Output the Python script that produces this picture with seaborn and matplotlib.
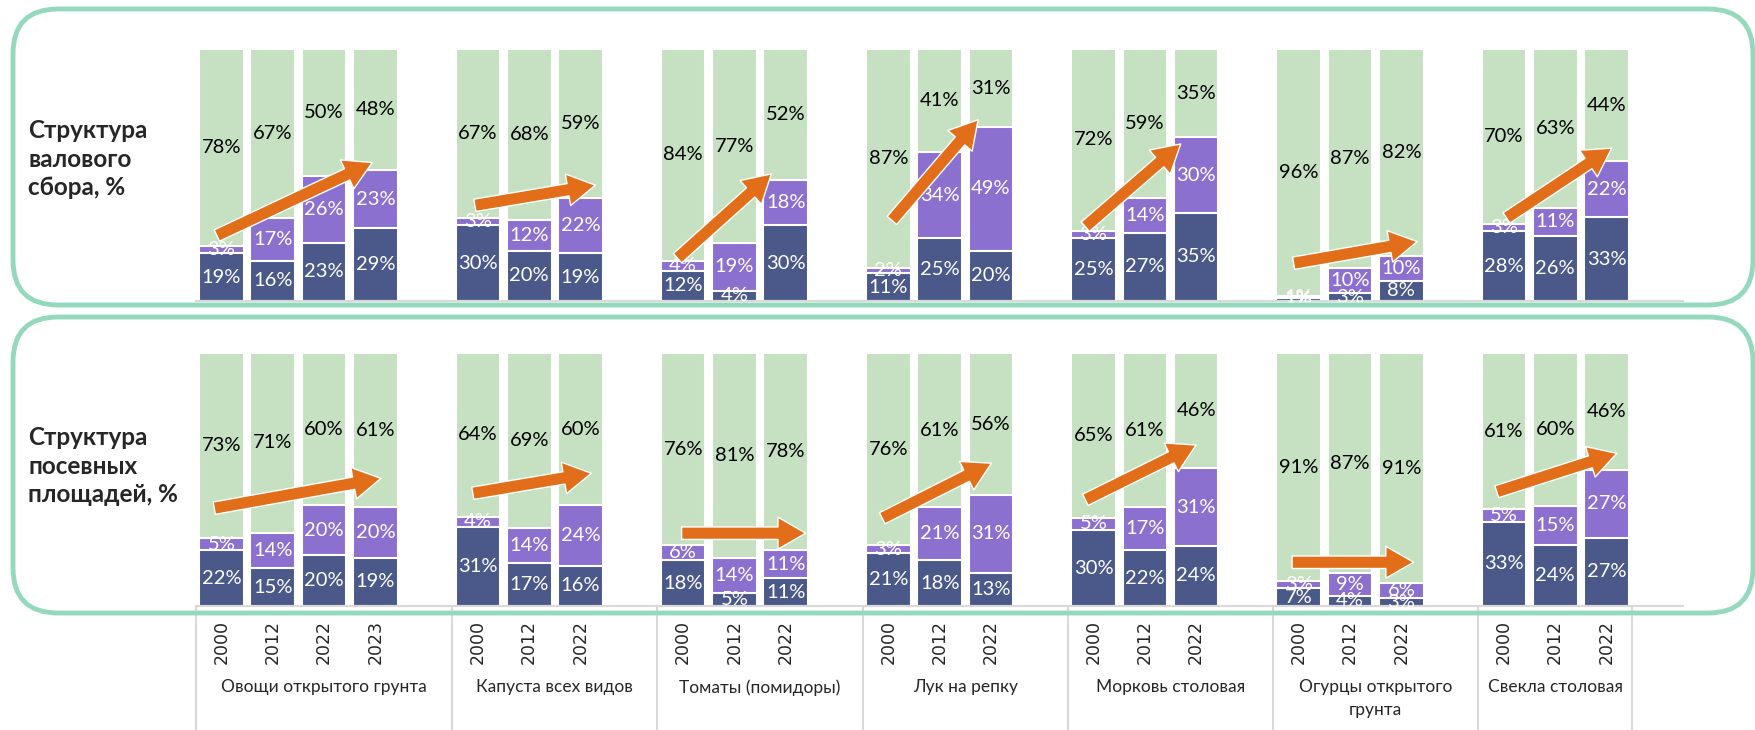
import matplotlib
matplotlib.use("Agg")
import matplotlib.pyplot as plt
from matplotlib.patches import FancyBboxPatch
import pandas as pd
import seaborn as sns

# categories and years on the x axis
categories = ["Овощи открытого грунта", "Капуста всех видов", "Томаты (помидоры)",
              "Лук на репку", "Морковь столовая", "Огурцы открытого\nгрунта",
              "Свекла столовая"]
years = [["2000", "2012", "2022", "2023"], ["2000", "2012", "2022"],
         ["2000", "2012", "2022"], ["2000", "2012", "2022"],
         ["2000", "2012", "2022"], ["2000", "2012", "2022"],
         ["2000", "2012", "2022"]]

# структура валового сбора, %
harvest_org = [19, 16, 23, 29, 30, 20, 19, 12, 4, 30, 11, 25, 20, 25, 27, 35, 1, 3, 8, 28, 26, 33]
harvest_kfh = [3, 17, 26, 23, 3, 12, 22, 4, 19, 18, 2, 34, 49, 3, 14, 30, 1, 10, 10, 3, 11, 22]
harvest_hh = [78, 67, 50, 48, 67, 68, 59, 84, 77, 52, 87, 41, 31, 72, 59, 35, 96, 87, 82, 70, 63, 44]

# структура посевных площадей, %
area_org = [22, 15, 20, 19, 31, 17, 16, 18, 5, 11, 21, 18, 13, 30, 22, 24, 7, 4, 3, 33, 24, 27]
area_kfh = [5, 14, 20, 20, 4, 14, 24, 6, 14, 11, 3, 21, 31, 5, 17, 31, 3, 9, 6, 5, 15, 27]
area_hh = [73, 71, 60, 61, 64, 69, 60, 76, 81, 78, 76, 61, 56, 65, 61, 46, 91, 87, 91, 61, 60, 46]

# trend arrows (x0, y0, x1, y1) in slot / share units
harvest_arrows = [(-0.09, 0.26, 2.94, 0.55), (4.94, 0.38, 7.29, 0.46), (8.89, 0.17, 10.72, 0.505),
                  (13.07, 0.32, 14.75, 0.72), (16.84, 0.295, 18.7, 0.624),
                  (20.9, 0.15, 23.31, 0.236), (25.05, 0.33, 27.1, 0.607)]
area_arrows = [(-0.14, 0.387, 3.11, 0.505), (4.9, 0.446, 7.21, 0.525), (8.97, 0.288, 11.39, 0.288),
               (12.88, 0.347, 15.01, 0.565), (16.84, 0.42, 19.0, 0.637),
               (20.87, 0.173, 23.24, 0.173), (24.86, 0.452, 27.2, 0.604)]

DARK = "#4A588A"
PURPLE = "#8C70D0"
GREEN = "#C6E0C2"
ORANGE = "#E26E1A"
MINT = "#95D9BD"
GRID = "#D9D9D9"

sns.set_theme(style="white")
plt.rcParams["font.family"] = ["Lato", "DejaVu Sans"]

# slot positions: every group is followed by one empty slot
slots, year_labels, cells = [], [], []
pos = 0
for g, ys in enumerate(years):
    start = pos
    for y in ys:
        slots.append(pos)
        year_labels.append(y)
        pos += 1
    end = pos + 0.5 if g < len(years) - 1 else pos - 0.5
    cells.append((start - 0.5, end))
    pos += 1
n_slots = pos


def draw_panel(ax, org, kfh, hh, arrows):
    df = pd.DataFrame({"slot": slots, "org": org, "kfh": kfh, "hh": hh})
    total = df[["org", "kfh", "hh"]].sum(axis=1)
    df["c1"] = df["org"] / total
    df["c2"] = (df["org"] + df["kfh"]) / total
    df["c3"] = 1.0
    for col, color in [("c3", GREEN), ("c2", PURPLE), ("c1", DARK)]:
        sns.barplot(data=df, x="slot", y=col, native_scale=True, color=color,
                    saturation=1, width=0.87, edgecolor="white", linewidth=1.5,
                    errorbar=None, ax=ax)
    for _, r in df.iterrows():
        ax.text(r.slot, r.c1 / 2, f"{r.org:.0f}%", ha="center", va="center",
                color="white", fontsize=14.5)
        ax.text(r.slot, (r.c1 + r.c2) / 2, f"{r.kfh:.0f}%", ha="center", va="center",
                color="white", fontsize=14.5)
        ax.text(r.slot, (r.c2 + 1) / 2, f"{r.hh:.0f}%", ha="center", va="center",
                color="black", fontsize=14.5)
    for x0, y0, x1, y1 in arrows:
        ax.annotate("", xy=(x1, y1), xytext=(x0, y0), annotation_clip=False, zorder=5,
                    arrowprops=dict(arrowstyle="simple,head_length=2.0,head_width=2.3,tail_width=0.9",
                                    mutation_scale=10, fc=ORANGE, ec="white", lw=1,
                                    shrinkA=0, shrinkB=0))
    ax.set_xlim(-0.5, n_slots - 0.5)
    ax.set_ylim(0, 1)
    ax.set_xlabel("")
    ax.set_ylabel("")
    ax.set_yticks([])
    for s in ["left", "right", "top"]:
        ax.spines[s].set_visible(False)
    ax.spines["bottom"].set_color(GRID)
    ax.spines["bottom"].set_linewidth(1.5)


fig = plt.figure(figsize=(17.56, 7.30), dpi=100)
ax_top = fig.add_axes([0.1115, 0.5877, 0.8472, 0.3448])
ax_bot = fig.add_axes([0.1115, 0.1699, 0.8472, 0.3462])

draw_panel(ax_top, harvest_org, harvest_kfh, harvest_hh, harvest_arrows)
draw_panel(ax_bot, area_org, area_kfh, area_hh, area_arrows)

ax_top.set_xticks([])
ax_bot.set_xticks(slots)
ax_bot.set_xticklabels(year_labels, rotation=90, fontsize=12.5, family="DejaVu Sans", va="top")
ax_bot.tick_params(axis="x", length=0, pad=10)

# multi-level category axis
edges = sorted(set([c[0] for c in cells] + [c[1] for c in cells]))
ax_bot.vlines(edges, -0.49, 0, transform=ax_bot.get_xaxis_transform(), colors=GRID,
              lw=1.5, clip_on=False)
for (a, b), name in zip(cells, categories):
    ax_bot.text((a + b) / 2, -0.29, name, ha="center", va="top", fontsize=12.5,
                transform=ax_bot.get_xaxis_transform(), linespacing=1.55)

# rounded frames
for y0, h in [(4.25, 2.96), (1.17, 2.96)]:
    fig.add_artist(FancyBboxPatch((0.13, y0), 17.40, h,
                                  boxstyle="round,pad=0,rounding_size=0.45",
                                  transform=fig.dpi_scale_trans, fill=False,
                                  ec=MINT, lw=3.5))

fig.text(0.016, 0.782, "Структура\nвалового\nсбора, %", fontsize=17.5, fontweight="bold",
         va="center", ha="left", linespacing=1.28)
fig.text(0.016, 0.3616, "Структура\nпосевных\nплощадей, %", fontsize=17.5, fontweight="bold",
         va="center", ha="left", linespacing=1.28)

fig.savefig("out.png", dpi=100)
